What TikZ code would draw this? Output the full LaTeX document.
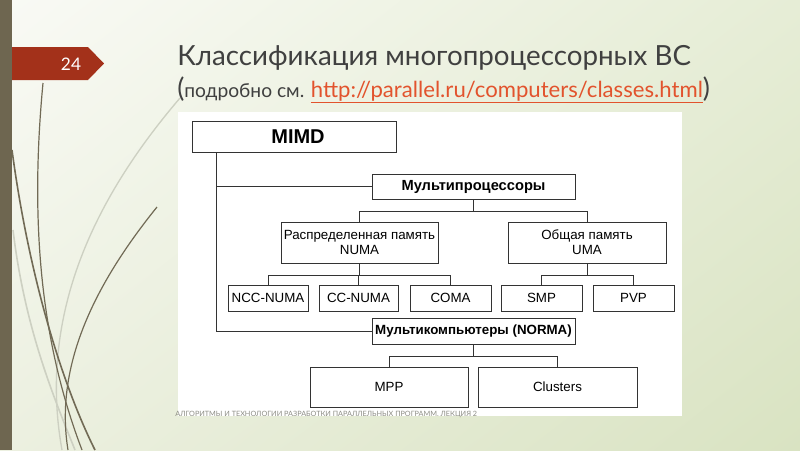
\documentclass[tikz,border=0pt]{standalone}
\usepackage{fontspec}
\setmainfont{Liberation Sans}
\newfontfamily\titlefont{Lato}
\usetikzlibrary{calc, shadings}

\definecolor{barolive}{HTML}{6E6650}
\definecolor{tagred}{HTML}{A3311A}
\definecolor{linkred}{HTML}{E2532D}
\definecolor{titlegray}{HTML}{404040}
\definecolor{stemdark}{HTML}{716A55}
\definecolor{stemlight}{HTML}{CDD0C2}
\definecolor{footgray}{HTML}{8C8C84}
\definecolor{bgul}{HTML}{F9FAF5}
\definecolor{bgur}{HTML}{E6EDD6}
\definecolor{bgll}{HTML}{ECF0E0}
\definecolor{bglr}{HTML}{D9E3C2}

\tikzset{
  box/.style={draw=black!80, line width=0.6pt, fill=white, inner sep=0pt,
    align=center, font=\fontsize{10}{11.5}\selectfont},
  boldbox/.style={box, font=\bfseries\fontsize{10}{12}\selectfont},
  sz/.style 2 args={minimum width=#1*0.75pt, minimum height=#2*0.75pt},
  link/.style={draw=black!80, line width=0.6pt},
}

\begin{document}
\begin{tikzpicture}[x=0.75pt, y=-0.75pt]
  % background
  \shade[upper left=bgul, upper right=bgur, lower left=bgll, lower right=bglr]
    (0,0) rectangle (800,450);
  \useasboundingbox (0,0) rectangle (800,450);

  % stems
  \draw[stemlight, line width=1pt] (180,98) .. controls (110,180) and (35,300) .. (62,450);
  \draw[stemlight, line width=1.2pt] (13,230) .. controls (25,330) and (55,400) .. (75,450);
  \draw[stemdark, line width=0.9pt] (43,83) .. controls (30,220) and (40,340) .. (82,450);
  \draw[stemdark, line width=1.2pt] (12,150) .. controls (28,270) and (60,380) .. (95,450);
  \draw[stemdark, line width=0.9pt] (157,207) .. controls (90,290) and (55,370) .. (68,450);

  % bar and page tag
  \fill[barolive] (0,0) rectangle (12,450);
  \fill[tagred] (12,47) -- (88,47) -- (104,63.5) -- (88,80) -- (12,80) -- cycle;
  \node[text=white, font=\titlefont\fontsize{13}{15}\selectfont] (page) at (71,64) {24};

  % title
  \node[anchor=base west, inner sep=0pt, text=titlegray,
        font=\titlefont\fontsize{20.8}{24}\selectfont] (title) at (177,65)
    {Классификация многопроцессорных ВС};
  \node[anchor=base west, inner sep=0pt, text=titlegray] (subtitle) at (177,97)
    {{\titlefont\fontsize{20}{22}\selectfont(}{\titlefont\fontsize{14.4}{16}\selectfont подробно см. }{\titlefont\fontsize{16.6}{19}\selectfont\textcolor{linkred}{\underline{http://parallel.ru/computers/classes.html}}}{\titlefont\fontsize{20}{22}\selectfont)}};

  % panel
  \fill[white] (178,112) rectangle (682,416);

  % boxes
  \node[boldbox, sz={204}{31}, font=\bfseries\fontsize{15}{17}\selectfont] (mimd) at (294,136.5) {\hspace*{6pt}MIMD};
  \node[boldbox, sz={203}{25}, font=\bfseries\fontsize{11}{13}\selectfont] (multi) at (473.5,186.5) {Мультипроцессоры};
  \node[box, sz={157}{41}] (numa) at (359.5,242.5) {Распределенная память\\NUMA};
  \node[box, sz={158}{41}] (uma) at (587,242.5) {Общая память\\UMA};
  \node[box, sz={80}{26}] (ncc) at (268,298) {NCC-NUMA};
  \node[box, sz={79}{26}] (cc) at (358.5,298) {CC-NUMA};
  \node[box, sz={81}{26}] (coma) at (450.5,298) {COMA};
  \node[box, sz={81}{26}] (smp) at (541.5,298) {SMP};
  \node[box, sz={81}{26}] (pvp) at (633.5,298) {PVP};
  \node[boldbox, sz={203}{26}] (norma) at (473.5,331) {Мультикомпьютеры (NORMA)};
  \node[box, sz={158}{40}] (mpp) at (389,387) {MPP};
  \node[box, sz={159}{40}] (clus) at (557.5,387) {Clusters};

  % connectors
  \draw[link] (mimd.south west) ++(25,0) |- (multi.west);
  \draw[link] (mimd.south west) ++(25,0) |- (norma.west);
  \foreach \kid in {numa, uma}
    \draw[link] (multi.south) -- ++(0,12) -| (\kid.north);
  \foreach \kid in {ncc, cc, coma}
    \draw[link] (numa.south) -- ++(0,12) -| (\kid.north);
  \foreach \kid in {smp, pvp}
    \draw[link] (uma.south) -- ++(0,12) -| (\kid.north);
  \foreach \kid in {mpp, clus}
    \draw[link] (norma.south) -- ++(0,12) -| (\kid.north);

  % footer
  \node[anchor=base west, inner sep=0pt, text=footgray,
        font=\titlefont\fontsize{5.45}{7}\selectfont] (footer) at (175,416)
    {АЛГОРИТМЫ И ТЕХНОЛОГИИ РАЗРАБОТКИ ПАРАЛЛЕЛЬНЫХ ПРОГРАММ. ЛЕКЦИЯ 2};
\end{tikzpicture}
\end{document}
